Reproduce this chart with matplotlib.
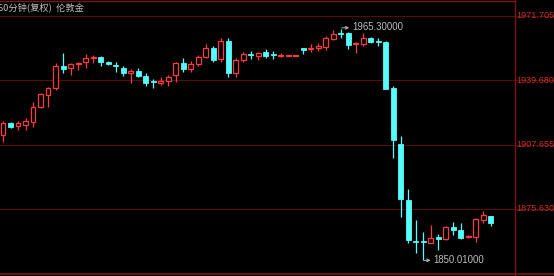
import matplotlib
matplotlib.use("Agg")
import matplotlib.pyplot as plt
from matplotlib.patches import Rectangle
from matplotlib.lines import Line2D

# 60-minute London gold candles (open, high, low, close)
opens = [1912.4, 1918.4, 1916.9, 1917.4, 1918.9, 1926.4, 1932.4, 1935.8, 1946.8, 1945.8,
         1947.8, 1948.8, 1950.8, 1951.3, 1948.8, 1947.3, 1945.8, 1943.3, 1944.3, 1941.8,
         1939.3, 1938.3, 1939.3, 1942.3, 1948.3, 1945.3, 1947.8, 1951.3, 1955.8, 1950.3,
         1959.2, 1943.3, 1949.8, 1952.8, 1951.8, 1953.8, 1952.8, 1951.8, 1952.0, 1952.0,
         1955.8, 1955.3, 1955.8, 1956.3, 1960.2, 1963.2, 1963.2, 1957.8, 1957.8, 1960.7,
         1959.2, 1958.8, 1935.8, 1907.9, 1880.1, 1859.7, 1859.7, 1858.7, 1861.6, 1860.6,
         1866.6, 1865.1, 1861.6, 1861.6, 1870.1, 1872.1]
highs = [1919.4, 1918.9, 1919.4, 1920.9, 1928.9, 1933.4, 1936.3, 1948.3, 1953.3, 1948.3,
         1948.8, 1952.8, 1952.3, 1951.8, 1949.3, 1948.8, 1946.8, 1945.3, 1945.8, 1943.3,
         1940.3, 1941.3, 1942.3, 1948.8, 1950.8, 1949.3, 1952.3, 1957.8, 1956.8, 1960.7,
         1960.7, 1950.8, 1953.8, 1954.3, 1953.8, 1955.3, 1954.3, 1953.3, 1952.2, 1952.2,
         1955.8, 1957.8, 1958.3, 1961.7, 1964.7, 1965.3, 1963.7, 1958.8, 1963.2, 1961.3,
         1960.7, 1959.2, 1936.8, 1911.9, 1885.5, 1870.1, 1864.1, 1867.6, 1863.1, 1867.1,
         1869.1, 1868.6, 1862.6, 1871.1, 1874.6, 1872.1]
lows = [1908.9, 1915.9, 1914.9, 1914.9, 1916.4, 1925.9, 1926.4, 1934.8, 1943.3, 1942.3,
        1944.8, 1945.8, 1948.3, 1946.8, 1947.3, 1943.8, 1941.8, 1938.3, 1941.3, 1936.8,
        1935.8, 1937.3, 1936.8, 1938.8, 1943.8, 1943.8, 1946.8, 1950.8, 1948.8, 1948.8,
        1941.3, 1941.3, 1948.8, 1950.3, 1949.8, 1950.8, 1950.3, 1951.3, 1951.9, 1951.9,
        1952.8, 1953.8, 1954.3, 1954.8, 1959.7, 1960.7, 1955.3, 1953.3, 1956.8, 1958.3,
        1956.8, 1935.3, 1901.0, 1871.6, 1858.7, 1853.7, 1850.01, 1858.7, 1855.2, 1860.2,
        1862.6, 1860.6, 1861.1, 1859.2, 1868.6, 1867.1]
closes = [1918.4, 1916.4, 1918.4, 1919.4, 1926.4, 1932.9, 1935.8, 1946.8, 1945.3, 1947.8,
          1948.3, 1950.8, 1951.3, 1948.8, 1947.8, 1946.8, 1943.3, 1944.3, 1941.8, 1938.3,
          1938.8, 1939.3, 1941.3, 1948.3, 1945.3, 1947.8, 1951.3, 1955.8, 1949.8, 1959.2,
          1943.3, 1949.8, 1952.8, 1952.3, 1953.3, 1951.8, 1952.3, 1952.3, 1952.1, 1952.1,
          1954.8, 1955.8, 1956.8, 1960.7, 1962.7, 1962.7, 1957.3, 1958.3, 1960.7, 1958.8,
          1958.8, 1935.3, 1909.9, 1880.6, 1860.2, 1859.2, 1859.2, 1861.1, 1860.6, 1866.6,
          1865.1, 1861.1, 1862.1, 1870.6, 1872.6, 1868.6]

price_ticks = [1971.705, 1939.680, 1907.655, 1875.630]
title = "60分钟(复权)  伦敦金"
hi_label = "1965.30000"
lo_label = "1850.01000"

UP = "#ff3a3a"
DOWN = "#54fcfc"
GRID = "#580c0c"
BORDER = "#7a1616"
TXT = "#bdbdbd"

fig = plt.figure(figsize=(5.54, 2.76), dpi=100, facecolor="black")
ax = fig.add_axes([0, 3 / 276, 514 / 554, 273 / 276])
ax.set_facecolor("black")
ax.set_xlim(-0.4, 68.1)
ax.set_ylim(1843.72, 1979.67)
for s in ax.spines.values():
    s.set_visible(False)
ax.set_xticks([])
ax.set_yticks([])

for t in price_ticks:
    ax.plot([0, 554 / 514], [t, t], color=GRID, lw=0.8,
            transform=ax.get_yaxis_transform(), clip_on=False, zorder=0)
    ax.text(516 / 514, t, "%.3f" % t, color="#d02c2c", fontsize=6.6,
            family="Liberation Sans", va="center", ha="left",
            transform=ax.get_yaxis_transform(), clip_on=False)

w = 0.66
for i in range(len(opens)):
    o, h, l, c = opens[i], highs[i], lows[i], closes[i]
    if c >= o:
        ax.vlines(i, l, o, color=UP, lw=0.9)
        ax.vlines(i, c, h, color=UP, lw=0.9)
        ax.add_patch(Rectangle((i - w / 2, o), w, max(c - o, 0.05),
                               facecolor="black", edgecolor=UP, lw=0.9, zorder=3))
    else:
        ax.vlines(i, l, h, color=DOWN, lw=0.9)
        ax.add_patch(Rectangle((i - w / 2, c), w, o - c,
                               facecolor=DOWN, edgecolor=DOWN, lw=0.6, zorder=3))

# max / min markers
imax = highs.index(max(highs))
imin = lows.index(min(lows))
ax.annotate(hi_label, xy=(imax + 0.15, max(highs) + 0.5), xytext=(imax + 1.5, max(highs) + 0.8),
            color=TXT, fontsize=6.9, family="Liberation Sans", va="center", ha="left",
            arrowprops=dict(arrowstyle="<-", color=TXT, lw=0.7, shrinkA=0, shrinkB=0,
                            mutation_scale=5))
ax.annotate(lo_label, xy=(imin + 0.1, min(lows)), xytext=(imin + 1.35, min(lows)),
            color=TXT, fontsize=6.9, family="Liberation Sans", va="center", ha="left",
            arrowprops=dict(arrowstyle="<-", color=TXT, lw=0.7, shrinkA=0, shrinkB=0,
                            mutation_scale=5))

fig.text(-0.004, 1 - 7 / 276, title, color=TXT, fontsize=6.7,
         family=["Noto Sans CJK SC", "DejaVu Sans"], va="center", ha="left")

# frame lines
fig.add_artist(Line2D([0, 1], [2 / 276, 2 / 276], color=BORDER, lw=1.2))
fig.add_artist(Line2D([0, 514 / 554], [275.5 / 276, 275.5 / 276], color=BORDER, lw=1.0))
fig.add_artist(Line2D([514.5 / 554, 514.5 / 554], [0, 1], color=BORDER, lw=1.0))

fig.savefig("out.png", dpi=100, facecolor="black")
